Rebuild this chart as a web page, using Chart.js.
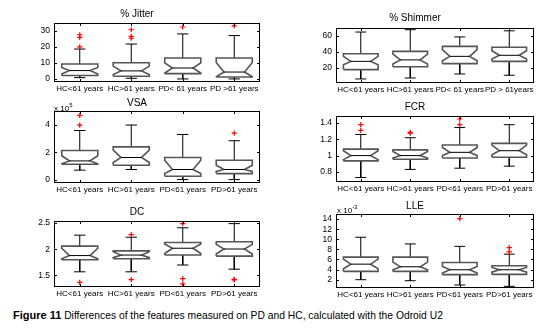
<!DOCTYPE html>
<html>
<head>
<meta charset="utf-8">
<script src="https://cdn.jsdelivr.net/npm/chart.js@4.4.1/dist/chart.umd.min.js"></script>
<style>
body { margin: 0; background: #fff; width: 554px; height: 336px; position: relative; overflow: hidden; }
canvas { position: absolute; }
.exp { position: absolute; font: 8px 'Liberation Sans', Arial, sans-serif; color: #000; white-space: nowrap; }
.exp sup { font-size: 6px; }
#caption { position: absolute; left: 13px; top: 309px; font: 10.3px 'Liberation Sans', Arial, sans-serif; color: #000; white-space: nowrap; }
#caption b { font-size: 11px; }
</style>
</head>
<body>
<canvas id="jitter" width="256" height="96" style="left:14px;top:0px"></canvas>
<canvas id="shimmer" width="248" height="97" style="left:296px;top:0px"></canvas>
<canvas id="vsa" width="256" height="102" style="left:14px;top:95px"></canvas>
<canvas id="fcr" width="248" height="99" style="left:296px;top:97px"></canvas>
<canvas id="dc" width="256" height="101" style="left:14px;top:200px"></canvas>
<canvas id="lle" width="248" height="106" style="left:296px;top:196px"></canvas>
<div class="exp" style="left:54px;top:102px">x 10<sup>5</sup></div>
<div class="exp" style="left:337px;top:204px">x 10<sup>-3</sup></div>
<div id="caption"><b>Figure 11</b> Differences of the features measured on PD and HC, calculated with the Odroid U2</div>
<script>
// % Jitter
var jitterLabels = ['HC<61 years', 'HC>61 years', 'PD< 61 years', 'PD >61 years'];
var jitterTicks = [0, 10, 20, 30];
var jitterLow = [0.8, 0.4, 0, 0];
var jitterQ1 = [2.1, 1.7, 3.3, 1.2];
var jitterNotchLo = [3.1, 2.7, 3.7, 1.4];
var jitterMedian = [5.2, 5.0, 6.8, 4.3];
var jitterNotchHi = [7.2, 8.0, 10.0, 10.3];
var jitterQ3 = [9.3, 10.1, 13.0, 13.0];
var jitterHigh = [18.6, 21.7, 28.0, 27.0];
var jitterOutliers = [[1, 27.5], [1, 25.8], [1, 20], [2, 30.6], [2, 26.5], [2, 25.3], [3, 32.3], [4, 33]];

// % Shimmer
var shimmerLabels = ['HC<61 years', 'HC>61 years', 'PD< 61 years', 'PD > 61years'];
var shimmerTicks = [20, 40, 60];
var shimmerLow = [6.4, 7.6, 12.6, 11];
var shimmerQ1 = [18, 21.6, 25.4, 28.2];
var shimmerNotchLo = [24, 25, 29, 31];
var shimmerMedian = [28.2, 30, 34.4, 35.7];
var shimmerNotchHi = [34.4, 37.3, 42.7, 41.4];
var shimmerQ3 = [37.7, 40.6, 46.8, 45.6];
var shimmerHigh = [64.5, 67.4, 58.4, 66];
var shimmerOutliers = [];

// VSA (x 10^5)
var vsaLabels = ['HC<61 years', 'HC>61 years', 'PD<61 years', 'PD>61 years'];
var vsaTicks = [0, 2, 4];
var vsaLow = [0.69, 0.74, 0, 0];
var vsaQ1 = [1.13, 1.05, 0.25, 0.44];
var vsaNotchLo = [1.16, 1.25, 0.44, 0.6];
var vsaMedian = [1.37, 1.62, 0.74, 0.74];
var vsaNotchHi = [1.75, 2.16, 1.42, 1.05];
var vsaQ3 = [2.13, 2.4, 1.62, 1.42];
var vsaHigh = [3.6, 4.0, 3.31, 2.85];
var vsaOutliers = [[1, 4.71], [1, 4.0], [4, 3.41]];

// FCR
var fcrLabels = ['HC<61 years', 'HC>61 years', 'PD<61 years', 'PD>61 years'];
var fcrTicks = [0.8, 1, 1.2, 1.4];
var fcrLow = [0.73, 0.83, 0.845, 0.87];
var fcrQ1 = [0.935, 0.955, 0.97, 0.98];
var fcrNotchLo = [0.95, 0.97, 1.0, 1.01];
var fcrMedian = [1.0, 1.0, 1.04, 1.06];
var fcrNotchHi = [1.06, 1.05, 1.1, 1.13];
var fcrQ3 = [1.08, 1.07, 1.13, 1.15];
var fcrHigh = [1.26, 1.22, 1.345, 1.38];
var fcrOutliers = [[1, 1.38], [1, 1.31], [2, 1.285], [2, 1.275], [3, 1.45], [3, 1.38]];

// DC
var dcLabels = ['HC<61 years', 'HC>61 years', 'PD<61 years', 'PD>61 years'];
var dcTicks = [1.5, 2, 2.5];
var dcLow = [1.57, 1.57, 1.7, 1.62];
var dcQ1 = [1.8, 1.82, 1.89, 1.87];
var dcNotchLo = [1.82, 1.84, 1.92, 1.91];
var dcMedian = [1.88, 1.89, 2.02, 2.005];
var dcNotchHi = [2.02, 1.955, 2.1, 2.095];
var dcQ3 = [2.06, 1.97, 2.13, 2.145];
var dcHigh = [2.27, 2.23, 2.41, 2.49];
var dcOutliers = [[1, 1.37], [2, 2.28], [2, 1.42], [3, 2.49], [3, 1.44], [3, 1.34], [4, 1.425], [4, 1.415]];

// LLE (x 10^-3)
var lleLabels = ['HC<61 years', 'HC>61 years', 'PD<61 years', 'PD>61 years'];
var lleTicks = [2, 4, 6, 8, 10, 12, 14];
var lleLow = [2.0, 1.8, 0.95, 0.69];
var lleQ1 = [3.64, 3.64, 3.0, 3.05];
var lleNotchLo = [4.16, 3.97, 3.3, 3.5];
var lleMedian = [5.08, 4.56, 3.97, 3.97];
var lleNotchHi = [6.07, 5.48, 4.62, 4.43];
var lleQ3 = [6.46, 6.46, 5.4, 4.75];
var lleHigh = [10.4, 9.08, 8.6, 7.05];
var lleOutliers = [[3, 14.1], [4, 8.36], [4, 7.5]];

var FONT = "'Liberation Sans', Arial, sans-serif";
var BOX_W = 0.35;   // half width of the box
var NOTCH_W = 0.2;  // half width at the median
var CAP_W = 0.11;   // half width of whisker caps

Chart.defaults.font.family = FONT;
Chart.defaults.color = '#000';

// frame round the plot and small inward ticks, matlab style
var framePlugin = {
    id: 'frame',
    afterDatasetsDraw: function(chart) {
        var a = chart.chartArea, ctx = chart.ctx;
        var xs = chart.scales.x, ys = chart.scales.y;
        ctx.save();
        ctx.strokeStyle = '#000';
        ctx.lineWidth = 1;
        ctx.strokeRect(Math.round(a.left) + 0.5, Math.round(a.top) + 0.5, Math.round(a.right - a.left) - 1, Math.round(a.bottom - a.top) - 1);
        ctx.beginPath();
        ys.ticks.forEach(function(t) {
            var y = Math.round(ys.getPixelForValue(t.value)) + 0.5;
            ctx.moveTo(a.left, y); ctx.lineTo(a.left + 3, y);
            ctx.moveTo(a.right, y); ctx.lineTo(a.right - 3, y);
        });
        xs.ticks.forEach(function(t) {
            var x = Math.round(xs.getPixelForValue(t.value)) + 0.5;
            ctx.moveTo(x, a.bottom); ctx.lineTo(x, a.bottom - 3);
            ctx.moveTo(x, a.top); ctx.lineTo(x, a.top + 3);
        });
        ctx.stroke();
        ctx.restore();
    }
};

function boxDatasets(low, q1, nlo, med, nhi, q3, high, outliers) {
    var boxes = [], whiskers = [], medians = [], outs = [];
    for (var i = 0; i < med.length; i++) {
        var x = i + 1;
        boxes.push(
            {x: x - BOX_W, y: q1[i]}, {x: x + BOX_W, y: q1[i]}, {x: x + BOX_W, y: nlo[i]},
            {x: x + NOTCH_W, y: med[i]}, {x: x + BOX_W, y: nhi[i]}, {x: x + BOX_W, y: q3[i]},
            {x: x - BOX_W, y: q3[i]}, {x: x - BOX_W, y: nhi[i]}, {x: x - NOTCH_W, y: med[i]},
            {x: x - BOX_W, y: nlo[i]}, {x: x - BOX_W, y: q1[i]}, {x: x, y: null});
        whiskers.push(
            {x: x, y: q3[i]}, {x: x, y: high[i]}, {x: x, y: null},
            {x: x - CAP_W, y: high[i]}, {x: x + CAP_W, y: high[i]}, {x: x, y: null},
            {x: x, y: q1[i]}, {x: x, y: low[i]}, {x: x, y: null},
            {x: x - CAP_W, y: low[i]}, {x: x + CAP_W, y: low[i]}, {x: x, y: null});
        medians.push({x: x - NOTCH_W, y: med[i]}, {x: x + NOTCH_W, y: med[i]}, {x: x, y: null});
    }
    outliers.forEach(function(o) { outs.push({x: o[0], y: o[1]}); });
    return [
        {data: outs, showLine: false, pointStyle: 'cross', pointRadius: 2.6, borderColor: '#ff0000', borderWidth: 1.2},
        {data: medians, borderColor: '#000', borderWidth: 1, pointRadius: 0},
        {data: boxes, borderColor: '#555', borderWidth: 1.6, pointRadius: 0},
        {data: whiskers, borderColor: '#000', borderWidth: 1, pointRadius: 0}
    ];
}

function makePanel(id, title, titlePad, labels, ticks, min, max, datasets) {
    return new Chart(document.getElementById(id), {
        type: 'line',
        data: {datasets: datasets},
        options: {
            responsive: false,
            animation: false,
            devicePixelRatio: 1,
            layout: {padding: {left: 0, right: 10, top: 0, bottom: 0}},
            elements: {line: {tension: 0}},
            plugins: {
                legend: {display: false},
                tooltip: {enabled: false},
                title: {display: true, text: title, font: {size: 10, weight: 'normal', lineHeight: 1.2}, color: '#000', padding: titlePad}
            },
            scales: {
                x: {
                    type: 'linear', min: 0.5, max: 4.5,
                    afterBuildTicks: function(s) { s.ticks = [1, 2, 3, 4].map(function(v) { return {value: v}; }); },
                    afterFit: function(s) { s.height = 14; },
                    grid: {display: false, drawTicks: false},
                    border: {display: false},
                    ticks: {autoSkip: false, maxRotation: 0, minRotation: 0, padding: 2, font: {size: 8},
                        callback: function(v) { return labels[v - 1]; }}
                },
                y: {
                    min: min, max: max,
                    afterBuildTicks: function(s) { s.ticks = ticks.map(function(v) { return {value: v}; }); },
                    afterFit: function(s) { s.width = 40; },
                    grid: {display: false, drawTicks: false},
                    border: {display: false},
                    ticks: {autoSkip: false, padding: 4, font: {size: 8.5}, callback: function(v) { return String(v); }}
                }
            }
        },
        plugins: [framePlugin]
    });
}

makePanel('jitter', '% Jitter', {top: 8, bottom: 3}, jitterLabels, jitterTicks, -1.9, 34.8,
    boxDatasets(jitterLow, jitterQ1, jitterNotchLo, jitterMedian, jitterNotchHi, jitterQ3, jitterHigh, jitterOutliers));
makePanel('shimmer', '% Shimmer', {top: 12, bottom: 4}, shimmerLabels, shimmerTicks, 1.4, 69.5,
    boxDatasets(shimmerLow, shimmerQ1, shimmerNotchLo, shimmerMedian, shimmerNotchHi, shimmerQ3, shimmerHigh, shimmerOutliers));
makePanel('vsa', 'VSA', {top: 2, bottom: 2}, vsaLabels, vsaTicks, -0.25, 5.03,
    boxDatasets(vsaLow, vsaQ1, vsaNotchLo, vsaMedian, vsaNotchHi, vsaQ3, vsaHigh, vsaOutliers));
makePanel('fcr', 'FCR', {top: 4, bottom: 3}, fcrLabels, fcrTicks, 0.675, 1.487,
    boxDatasets(fcrLow, fcrQ1, fcrNotchLo, fcrMedian, fcrNotchHi, fcrQ3, fcrHigh, fcrOutliers));
makePanel('dc', 'DC', {top: 6, bottom: 3}, dcLabels, dcTicks, 1.28, 2.54,
    boxDatasets(dcLow, dcQ1, dcNotchLo, dcMedian, dcNotchHi, dcQ3, dcHigh, dcOutliers));
makePanel('lle', 'LLE', {top: 4, bottom: 2}, lleLabels, lleTicks, 0.36, 15,
    boxDatasets(lleLow, lleQ1, lleNotchLo, lleMedian, lleNotchHi, lleQ3, lleHigh, lleOutliers));
</script>
</body>
</html>
